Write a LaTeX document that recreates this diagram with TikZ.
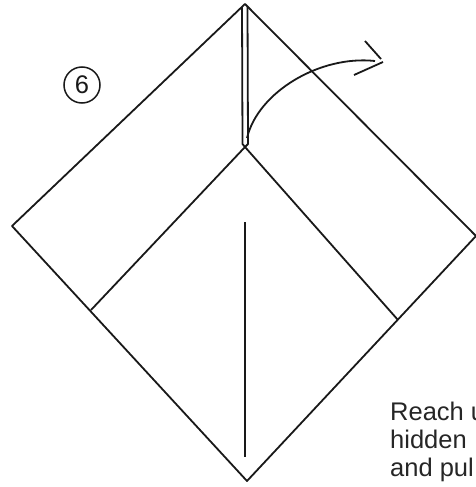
\documentclass[tikz,border=0pt]{standalone}
\usepackage{fontspec}
\setmainfont{Liberation Sans}
\tikzset{ln/.style={line width=1.8pt,color=black!90,line join=round},
 lbl/.style={inner sep=0pt,anchor=base west,font=\fontsize{25.5}{28}\selectfont,color=black!85}}
\begin{document}
\begin{tikzpicture}[x=1pt,y=-1pt]
\useasboundingbox (0,0) rectangle (476,487);
\clip (0,0) rectangle (476,487);
\coordinate (top) at (245,4);
\coordinate (L) at (12,226);
\coordinate (R) at (476,236);
\coordinate (B) at (247,481);
\coordinate (C) at (245,147);
\coordinate (FL) at (91,310);
\coordinate (FR) at (398,320);
\draw[ln] (top) -- (L) -- (B) -- (R) -- cycle;
\draw[ln] (FL) -- (C) -- (FR);
\draw[ln] (242,7) -- (242.5,144) -- (245,147) -- (248,144) -- (247.5,7);
\draw[ln] (245,222) -- (245,457);
\coordinate (a0) at (247,138);
\coordinate (a1) at (375,61);
\coordinate (h1) at (365,41);
\coordinate (h2) at (383,62);
\coordinate (h3) at (354,75);
\draw[ln] (a0) .. controls (258,92) and (320,55) .. (a1);
\draw[ln] (h1) -- (381,59);
\draw[ln] (h2) -- (h3);
\node[circle,draw,line width=1.5pt,color=black!90,minimum size=36pt,inner sep=0pt,font=\fontsize{25.5}{26}\selectfont] (num) at (82,85) {6};
\node[lbl] (t1) at (390,420) {Reach u};
\node[lbl] (t2) at (390,448) {hidden};
\node[lbl] (t3) at (390,476.5) {and pul};
\end{tikzpicture}
\end{document}
